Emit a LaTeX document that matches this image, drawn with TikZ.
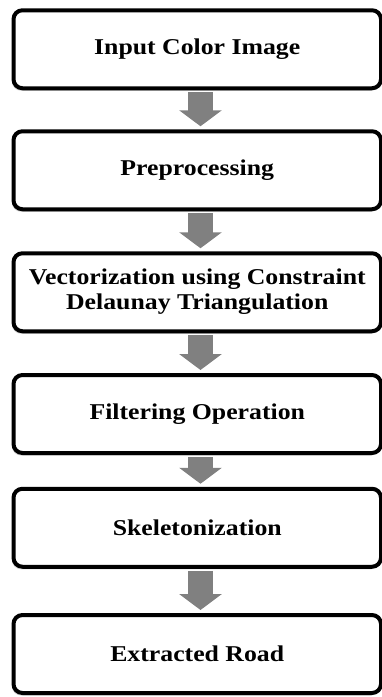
\documentclass[tikz,border=0pt]{standalone}
\usepackage{fontspec}
\setmainfont{Liberation Serif}
\usetikzlibrary{arrows.meta,shadows}
\definecolor{arrowgray}{RGB}{128,128,128}
\newcommand{\boxtext}[1]{\scalebox{1.14}[1]{#1}}
\tikzset{
  stepbox/.style={draw=black, line width=4pt, rounded corners=9pt, fill=white,
    minimum width=367.5pt, minimum height=78pt, align=center, inner sep=0pt,
    font=\fontsize{22.6}{25}\selectfont\bfseries,
    drop shadow={shadow xshift=-1.5pt, shadow yshift=-2.5pt, opacity=0.35, fill=gray}},
  flow/.style={draw=arrowgray, line width=25pt, -{Triangle[width=42pt,length=16pt]},
    shorten <=2pt, shorten >=3pt}
}
\begin{document}
\begin{tikzpicture}[x=1pt,y=1pt]
\useasboundingbox (0,0) rectangle (382,-697);
\node[stepbox] (b1) at (197.25,-49.25) {\boxtext{Input Color Image}};
\node[stepbox] (b2) at (197.25,-170.25) {\boxtext{Preprocessing}};
\node[stepbox] (b3) at (197.25,-292.25) {\boxtext{\begin{tabular}{@{}c@{}}Vectorization using Constraint\\Delaunay Triangulation\end{tabular}}};
\node[stepbox] (b4) at (197.25,-414) {\boxtext{Filtering Operation}};
\node[stepbox] (b5) at (197.25,-527.75) {\boxtext{Skeletonization}};
\node[stepbox] (b6) at (197.25,-654) {\boxtext{Extracted Road}};
\draw[flow] ([xshift=3.25pt]b1.south) -- ([xshift=3.25pt]b2.north);
\draw[flow] ([xshift=3.25pt]b2.south) -- ([xshift=3.25pt]b3.north);
\draw[flow] ([xshift=3.25pt]b3.south) -- ([xshift=3.25pt]b4.north);
\draw[flow] ([xshift=3.25pt]b4.south) -- ([xshift=3.25pt]b5.north);
\draw[flow] ([xshift=3.25pt]b5.south) -- ([xshift=3.25pt]b6.north);
\end{tikzpicture}
\end{document}
